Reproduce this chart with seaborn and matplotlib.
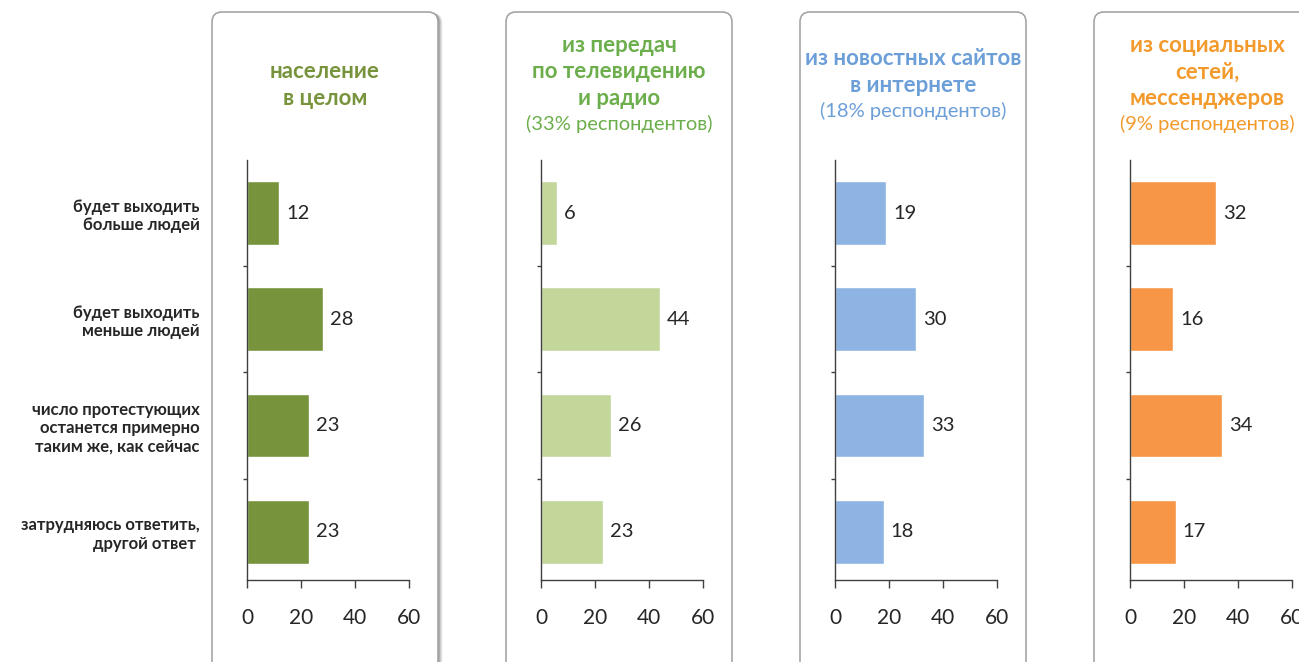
import numpy as np
import pandas as pd
import matplotlib.pyplot as plt
import seaborn as sns
from matplotlib.patches import FancyBboxPatch

# данные
categories = ["будет выходить\nбольше людей",
              "будет выходить\nменьше людей",
              "число протестующих\nостанется примерно\nтаким же, как сейчас",
              "затрудняюсь ответить,\nдругой ответ "]
vals_all = [12, 28, 23, 23]
vals_tv = [6, 44, 26, 23]
vals_web = [19, 30, 33, 18]
vals_social = [32, 16, 34, 17]

titles = [["население", "в целом"],
          ["из передач", "по телевидению", "и радио"],
          ["из новостных сайтов", "в интернете"],
          ["из социальных", "сетей,", "мессенджеров"]]
subtitles = [None, "(33% респондентов)", "(18% респондентов)", "(9% респондентов)"]
xticks = [0, 20, 40, 60]

bar_colors = ['#77933C', '#C4D79B', '#8DB4E2', '#F79646']
title_colors = ['#77933C', '#6DAE4C', '#6C9FD8', '#F39A2D']

sns.set_style("white")
plt.rcParams['font.family'] = ['Lato', 'Roboto', 'DejaVu Sans']

fig = plt.figure(figsize=(12.99, 6.62), dpi=100)

# фон с рамками (координаты в пикселях)
bg = fig.add_axes([0, 0, 1, 1])
bg.set_xlim(0, 1299)
bg.set_ylim(662, 0)
bg.axis('off')

box_left = [212, 506, 800, 1094]
box_w = 226
# тень у первой рамки
for k, a in zip(range(6, 0, -1), [0.04, 0.06, 0.08, 0.10, 0.13, 0.16]):
    bg.add_patch(FancyBboxPatch((box_left[0] + k * 0.8, 12 + k * 0.2), box_w, 700,
                                boxstyle='round,pad=0,rounding_size=10',
                                fc='black', ec='none', alpha=a, zorder=1))
for x0 in box_left:
    bg.add_patch(FancyBboxPatch((x0, 12), box_w, 700,
                                boxstyle='round,pad=0,rounding_size=10',
                                fc='white', ec='#A6A6A6', lw=1.2, zorder=2))

# заголовки
line_h = 26.3
for i in range(4):
    lines = titles[i] + ([subtitles[i]] if subtitles[i] else [])
    cx = box_left[i] + box_w / 2
    y0 = 85 - (len(lines) - 1) * line_h / 2
    for j, line in enumerate(lines):
        bold = j < len(titles[i])
        bg.text(cx, y0 + j * line_h, line, ha='center', va='center',
                fontsize=16 if bold else 14.5,
                fontweight='bold' if bold else 'normal',
                color=title_colors[i], zorder=3)

# графики
data = [vals_all, vals_tv, vals_web, vals_social]
lefts = [247, 541, 835, 1130]
for i in range(4):
    ax = fig.add_axes([lefts[i] / 1299, 1 - 580 / 662, 162 / 1299, 420 / 662])
    ax.set_facecolor('none')
    sns.barplot(x=data[i], y=categories, orient='h', color=bar_colors[i],
                saturation=1, width=0.6, ax=ax)
    ax.bar_label(ax.containers[0], padding=5, fontsize=14.5)
    ax.set_xlim(0, 60)
    ax.set_ylim(3.455, -0.5)
    ax.set_xticks(xticks)
    ax.set_xticklabels([str(t) for t in xticks], fontsize=15)
    ax.set_yticks(np.arange(0.5, 3.0, 1.0), minor=True)
    ax.tick_params(axis='x', direction='out', length=6, width=1, color='#404040', pad=14,
                   bottom=True)
    ax.tick_params(axis='y', which='major', length=0, pad=34, labelsize=12)
    ax.tick_params(axis='y', which='minor', left=True, length=3, width=1, color='#404040')
    if i > 0:
        ax.set_yticklabels([])
    for lbl in ax.get_yticklabels():
        lbl.set_fontweight('bold')
    ax.set_xlabel('')
    ax.set_ylabel('')
    for s in ['top', 'right']:
        ax.spines[s].set_visible(False)
    for s in ['left', 'bottom']:
        ax.spines[s].set_color('#404040')
        ax.spines[s].set_linewidth(1)

plt.savefig('out.png', dpi=100)
